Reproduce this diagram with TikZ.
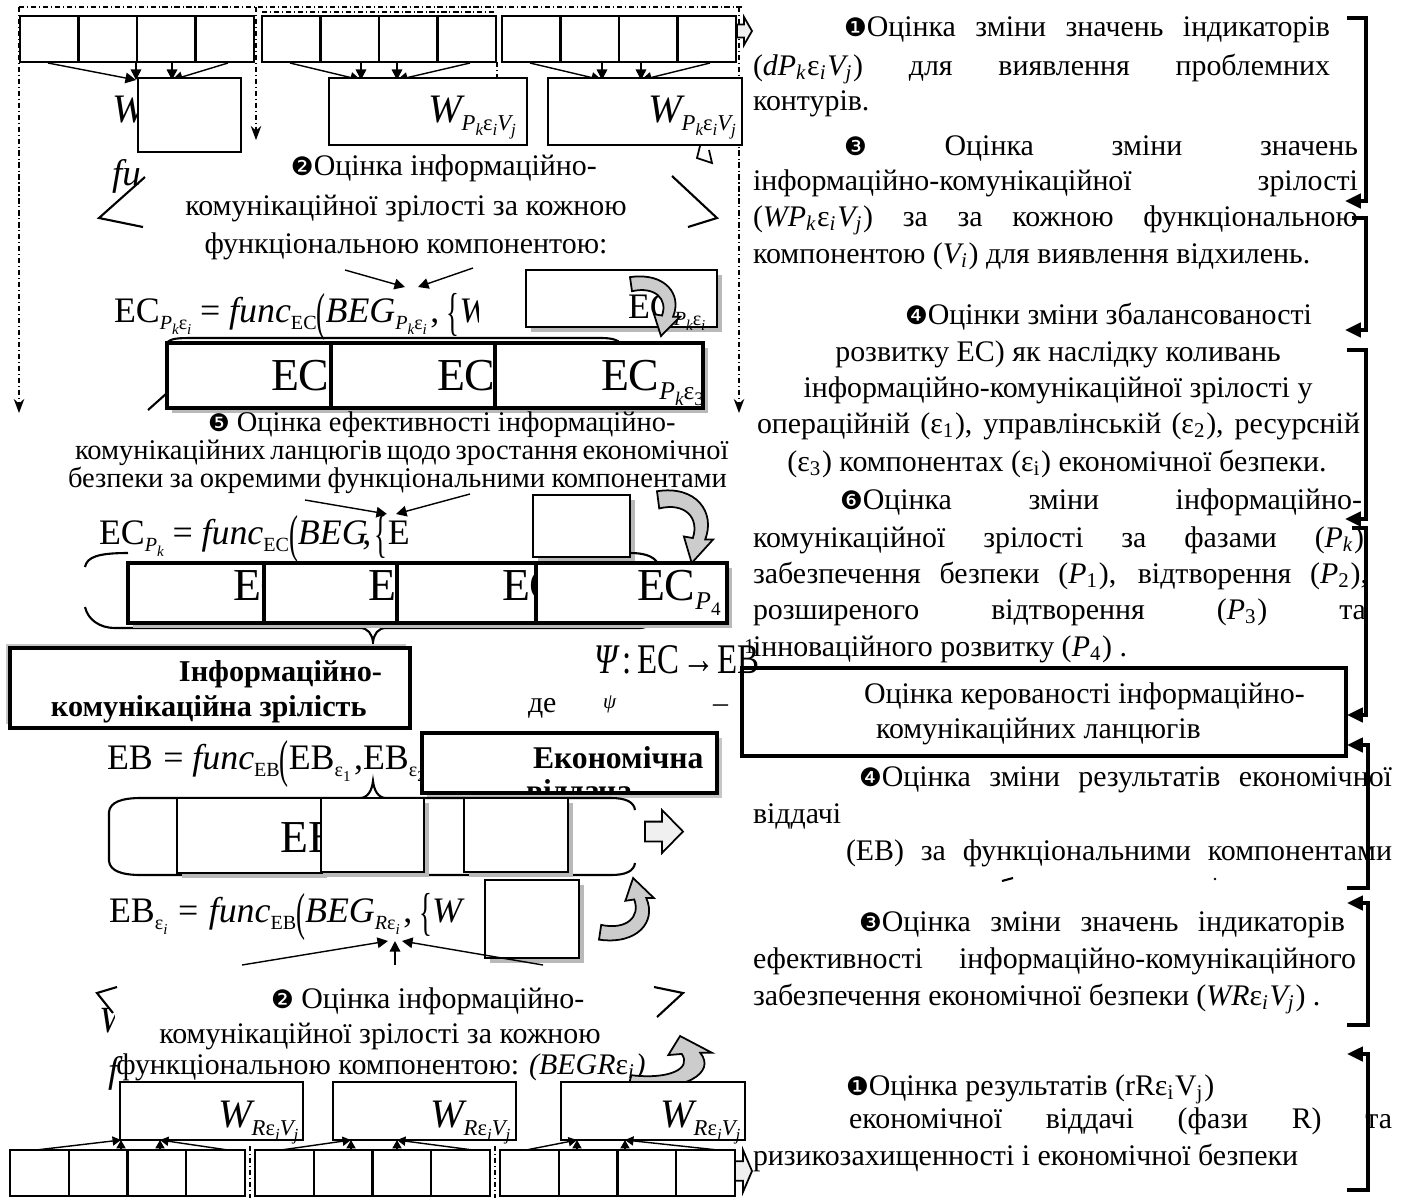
\documentclass[tikz,border=0pt]{standalone}
\usepackage{fontspec}
\usepackage{graphicx}
\setmainfont{Liberation Serif}
\newfontfamily\dingf{DejaVu Sans}
\usetikzlibrary{arrows.meta,calc}
\newlength\pxu
\setlength\pxu{0.01cm}
\newcommand\dg[1]{{\dingf\scalebox{0.85}{#1}}}
\newcommand\ti[1]{{\itshape #1}}
\newcommand\sbi[1]{\textsubscript{\itshape #1}}
\newcommand\sbu[1]{\textsubscript{\upshape #1}}
\newcommand\fsb[1]{\raisebox{-0.2em}{\scalebox{0.56}{#1}}}
\newcommand\isb[1]{\raisebox{-0.24em}{\scalebox{0.75}{#1}}}
\newcommand\ee{{\upshape ε}}
\newcommand\PkE[1]{\ti{P}\isb{\ti{k}}\ee\isb{#1}}
\newcommand\bigp[1]{\raisebox{-0.2em}{\scalebox{0.75}[1.45]{#1}}}
\newcommand\jt[4]{\node[txt] at (#1,#2) {\makebox[#3\pxu][s]{#4}};}
\newcommand\tl[3]{\node[txt] at (#1,#2) {#3};}
\newcommand\shbox[5][sbx]{\fill[shd] ($(#2,#3)+(5,5)$) rectangle ($(#4,#5)+(5,5)$); \draw[#1] (#2,#3) rectangle (#4,#5);}
\newcommand\carrow[4]{\begin{scope}[shift={(#1,#2)}, xscale=#3, yscale=#4]
\filldraw[carr] (0,0.08) .. controls (0.7,0) and (1.05,0.35) .. (0.86,0.7) -- (1,0.7) -- (0.62,1) -- (0.48,0.66) -- (0.64,0.68) .. controls (0.76,0.42) and (0.5,0.22) .. (0.04,0.3) -- cycle;
\end{scope}}
\newcommand\barrow[5]{\filldraw[barr] (#1,{#2+0.27*(#4-#2)}) -- (#5,{#2+0.27*(#4-#2)}) -- (#5,#2) -- (#3,{(#2+#4)/2}) -- (#5,#4) -- (#5,{#4-0.27*(#4-#2)}) -- (#1,{#4-0.27*(#4-#2)}) -- cycle;}
\tikzset{
 txt/.style={inner sep=0pt, outer sep=0pt, anchor=base west, font=\fontsize{8.5}{10}\selectfont},
 ctxt/.style={txt, anchor=base},
 stxt/.style={txt, font=\fontsize{8.1}{10}\selectfont},
 btxt/.style={txt, font=\fontsize{8.6}{10}\selectfont\bfseries},
 ebtxt/.style={txt, font=\fontsize{9}{10}\selectfont\bfseries},
 ftxt/.style={txt, font=\fontsize{10.2}{12}\selectfont},
 fitxt/.style={txt, font=\fontsize{10.5}{12}\selectfont\itshape},
 rtxt/.style={txt, font=\fontsize{13}{14}\selectfont},
 wtxt/.style={txt, font=\fontsize{11.5}{12}\selectfont\itshape},
 cell/.style={draw, line width=0.6pt, fill=white},
 rcell/.style={draw, line width=0.9pt, fill=white},
 wbox/.style={draw, line width=0.8pt, fill=white},
 sbx/.style={draw, line width=0.7pt, fill=white},
 thk/.style={draw, line width=1.3pt, fill=white},
 shd/.style={fill=gray!55},
 dd/.style={line width=0.4pt, dash pattern=on 1.5pt off 0.8pt on 0.3pt off 0.8pt},
 ddarr/.style={dd, -{Stealth[length=4pt,width=3pt]}},
 cv/.style={line width=0.4pt, -{Triangle[length=3pt,width=3pt]}},
 cvs/.style={line width=0.4pt, -{Triangle[length=2.4pt,width=2.6pt]}},
 brka/.style={line width=1.2pt, -{Triangle[length=4.5pt,width=4pt]}},
 carr/.style={fill=gray!40, draw, line width=0.5pt},
 barr/.style={fill=gray!12, draw, line width=0.5pt},
 ln/.style={line width=0.6pt},
}
\begin{document}
\begin{tikzpicture}[x=0.01cm,y=-0.01cm]
\useasboundingbox (0,0) rectangle (1408,1202);

% ---------- top frame ----------
\draw[dd] (19,7) -- (742,7);
\draw[dd] (262,12) -- (494,12);
\draw[ddarr] (19,7) -- (19,413);
\draw[ddarr] (256,7) -- (256,140);
\draw[ddarr] (739,7) -- (739,413);
\draw[dd] (497,62) -- (497,80);

\foreach \a in {20,262,502}{\foreach \i in {0,1,2,3}{\draw[cell] ({\a+\i*58.5},16) rectangle ({\a+(\i+1)*58.5},62);}}
\barrow{737}{17}{752}{45}{744}

\foreach \a/\p/\q in {20/136/172, 262/361/397, 502/602/641}{
 \draw[cv] ({\a+28},63) -- (\p,80);
 \draw[cv] ({\a+208},63) -- (\q,80);
 \draw[cv] (\p,62) -- (\p,80);
 \draw[cv] (\q,62) -- (\q,80);
}
\node[wtxt] (wt1) at (112,122) {W\fsb{\PkE{\ti{i}}\ti{V}\isb{\ti{j}}}};
\draw[wbox] (138,78) rectangle (241,152);
\draw[wbox] (329,78) rectangle (527,145);
\node[wtxt] (wt2) at (428,122) {W\fsb{\PkE{\ti{i}}\ti{V}\isb{\ti{j}}}};
\draw[wbox] (548,78) rectangle (742,145);
\node[wtxt] (wt3) at (648,122) {W\fsb{\PkE{\ti{i}}\ti{V}\isb{\ti{j}}}};
\draw[line width=0.5pt] (700,146) -- (697,158) -- (712,163) -- (709,150);

\node[fitxt] at (112,185) {fu};
\draw[ln] (145,177) -- (99,218) -- (143,227);
\draw[ln] (672,176) -- (717,218) -- (688,227);
\node[txt] at (291,175) {\dg{❷}Оцінка інформаційно-};
\node[ctxt] at (406,215) {комунікаційної зрілості за кожною};
\node[ctxt] at (406,253) {функціональною компонентою:};

\begin{scope}\clip (100,280) rectangle (478,345);
\node[ftxt] (f1) at (114,322) {EC\fsb{\PkE{\ti{i}}}\hspace{2.5pt}=\hspace{2.5pt}{\itshape func}\fsb{EC}\bigp{(}{\itshape BEG}\fsb{\PkE{\ti{i}}}\hspace{1pt},\hspace{2pt}\bigp{\{}{\itshape W}};
\end{scope}
\draw[cv] (345,270) -- (405,287);
\draw[cv] (473,268) -- (418,287);
\shbox{526}{270}{717}{327}
\node[ftxt] at (628,318) {EC\fsb{\PkE{\ti{i}}}};
\carrow{630}{272}{50}{64}

\draw[ln] (167,343) .. controls (170,338) and (180,338) .. (194,338) -- (601,338) .. controls (612,338) and (618,340) .. (620,343);
\fill[shd] (172,348) rectangle (708,413);
\draw[rcell] (167,343) rectangle (331,408);
\node[rtxt] at (271,390) {EC\fsb{\PkE{1}}};
\draw[rcell] (331,343) rectangle (495,408);
\node[rtxt] at (437,390) {EC\fsb{\PkE{2}}};
\draw[rcell] (495,343) rectangle (703,408);
\node[rtxt] at (601,390) {EC\fsb{\PkE{3}}};
\draw[ln] (148,410) -- (167,393);

% ---------- block 5 ----------
\node[stxt] at (208,431) {\dg{❺} Оцінка ефективності інформаційно-};
\node[stxt] at (75,459) {\makebox[652\pxu][s]{комунікаційних ланцюгів щодо зростання економічної}};
\node[stxt] at (68,487) {\makebox[659\pxu][s]{безпеки за окремими функціональними компонентами}};
\draw[cv] (305,500) -- (387,514);
\draw[cv] (470,494) -- (396,514);
\node[ftxt] (f2) at (99,544) {EC\fsb{\ti{P}\isb{\ti{k}}}\hspace{2.5pt}=\hspace{2.5pt}{\itshape func}\fsb{EC}\bigp{(}{\itshape BEG}\hspace{-1.5pt},\hspace{1pt}\bigp{\{}E};
\shbox{533}{495}{630}{557}
\carrow{657}{485}{56}{78}

\draw[ln] (85,567) .. controls (87,557) and (98,553) .. (128,553);
\draw[ln] (630,553) .. controls (648,553) and (657,558) .. (659,567);
\draw[ln] (85,607) .. controls (88,620) and (100,628) .. (115,628) -- (360,628) .. controls (368,628) and (372,634) .. (373,642) .. controls (374,634) and (378,628) .. (386,628) -- (640,628) .. controls (650,628) and (657,618) .. (659,607);
\fill[shd] (133,568) rectangle (732,628);
\draw[rcell] (128,563) rectangle (264,623);
\node[rtxt] at (233,600) {EC\fsb{\ti{P}\isb{1}}};
\draw[rcell] (264,563) rectangle (397,623);
\node[rtxt] at (368,600) {EC\fsb{\ti{P}\isb{2}}};
\draw[rcell] (397,563) rectangle (536,623);
\node[rtxt] at (502,600) {EC\fsb{\ti{P}\isb{3}}};
\draw[rcell] (536,563) rectangle (727,623);
\node[rtxt] at (637,600) {EC\fsb{\ti{P}\isb{4}}};

% ---------- middle ----------
\fill[gray!45] (6,644) rectangle (406,724);
\draw[thk] (10,648) rectangle (410,728);
\node[btxt] at (179,681) {Інформаційно-};
\node[btxt] at (51,716) {комунікаційна зрілість};

\node[txt] at (528,712) {де};
\node[txt, font=\fontsize{6}{7}\selectfont\itshape] at (603,708) {ψ};
\node[txt] at (713,712) {–};

\node[ftxt] (f3) at (107,769) {EB\hspace{3pt}=\hspace{2.5pt}{\itshape func}\fsb{EB}\bigp{(}EB\fsb{ε\isb{1}}\hspace{1pt},EB\fsb{ε\isb{2}}};
\fill[gray!45] (427,738) rectangle (722,798);
\draw[thk] (422,733) rectangle (717,793);
\node[ebtxt] at (533,768) {Економічна};
\begin{scope}\clip (422,733) rectangle (717,792);
\node[ebtxt] at (526,801) {віддача};
\end{scope}

\draw[ln] (141,798) -- (360,798) .. controls (368,798) and (372,790) .. (373,781) .. controls (374,790) and (378,798) .. (386,798) -- (611,798) .. controls (626,798) and (634,802) .. (635,810);
\draw[ln] (141,798) .. controls (122,798) and (110,802) .. (109,812) -- (109,861) .. controls (110,871) and (122,875) .. (141,875) -- (611,875) .. controls (626,875) and (634,871) .. (635,863);
\fill[shd] (182,803) rectangle (327,878);
\draw[sbx] (177,798) rectangle (322,873);
\node[rtxt] at (281,852) {EB\fsb{ε\isb{1}}};
\fill[shd] (326,803) rectangle (429,877);
\draw[sbx] (321,798) rectangle (424,872);
\fill[shd] (469,803) rectangle (573,877);
\draw[sbx] (464,798) rectangle (568,872);
\barrow{645}{810}{683}{853}{662}

\node[ftxt] (f4) at (109,922) {EB\fsb{ε\isb{\ti{i}}}\hspace{3pt}=\hspace{3pt}{\itshape func}\fsb{EB}\bigp{(}{\itshape BEG}\fsb{\ti{R}ε\isb{\ti{i}}}\hspace{1pt},\hspace{2pt}\bigp{\{}{\itshape W}};
\shbox{485}{880}{579}{958}
\carrow{599}{945}{55}{-67}
\draw[cv] (242,965) -- (388,941);
\draw[cv] (543,965) -- (402,941);
\draw[cv] (395,965) -- (395,941);

% ---------- bottom block 2 ----------
\draw[ln] (117,987) -- (97,993) -- (113,1013);
\draw[ln] (654,987) -- (683,993) -- (657,1017);
\node[txt] at (271,1008) {\dg{❷} Оцінка інформаційно-};
\node[ctxt] at (380,1043) {комунікаційної зрілості за кожною};
\node[ctxt] at (381,1074) {функціональною компонентою: {\itshape (BEGR}ε\sbi{i}{\itshape )}};
\begin{scope}\clip (90,1005) rectangle (114,1040);
\node[fitxt] at (99,1032) {W};
\end{scope}
\node[fitxt] at (108,1082) {f};
\carrow{628}{1092}{84}{-56}

\draw[wbox] (120,1082) rectangle (303,1140);
\node[wtxt] at (218,1127) {W\fsb{\ti{R}\ee\isb{\ti{i}}\ti{V}\isb{\ti{j}}}};
\draw[wbox] (333,1082) rectangle (516,1140);
\node[wtxt] at (430,1127) {W\fsb{\ti{R}\ee\isb{\ti{i}}\ti{V}\isb{\ti{j}}}};
\draw[wbox] (561,1082) rectangle (745,1140);
\node[wtxt] at (660,1127) {W\fsb{\ti{R}\ee\isb{\ti{i}}\ti{V}\isb{\ti{j}}}};
\foreach \a/\p/\q in {10/121/160, 255/351/397, 500/577/625}{
 \draw[cvs] ({\a+26},1150) -- (\p,1140);
 \draw[cvs] ({\a+218},1150) -- (\q,1140);
 \draw[cvs] (\p,1150) -- (\p,1140);
 \draw[cvs] (\q,1150) -- (\q,1140);
}
\foreach \a in {10,255,500}{\foreach \i in {0,1,2,3}{\draw[cell] ({\a+\i*58.75},1150) rectangle ({\a+(\i+1)*58.75},1196);}}
\draw[dd] (250,1146) -- (250,1198);
\draw[dd] (495,1146) -- (495,1198);
\barrow{735}{1150}{752}{1192}{743}

% ---------- right column ----------
\jt{844}{36}{486}{\dg{❶}Оцінка зміни значень індикаторів}
\jt{753}{75}{577}{(\ti{dP}\sbi{k}ε\sbi{i}\ti{V}\sbi{j}) для виявлення проблемних}
\tl{753}{110}{контурів.}
\jt{844}{155}{514}{\dg{❸} Оцінка зміни значень}
\jt{753}{190}{605}{інформаційно-комунікаційної зрілості}
\jt{753}{226}{605}{(\ti{WP}\sbi{k}ε\sbi{i}\ti{V}\sbi{j}) за за кожною функціональною}
\tl{753}{263}{компонентою (\ti{V}\sbi{i}) для виявлення відхилень.}
\tl{905}{324}{\dg{❹}Оцінки зміни збалансованості}
\node[ctxt] at (1058,361) {розвитку ЕС) як наслідку коливань};
\node[ctxt] at (1058,397) {інформаційно-комунікаційної зрілості у};
\jt{757}{433}{603}{операційній (ε\sbu{1}), управлінській (ε\sbu{2}), ресурсній}
\node[ctxt] at (1057,471) {(ε\sbu{3}) компонентах (ε\sbu{i}) економічної безпеки.};
\jt{840}{509}{522}{\dg{❻}Оцінка зміни інформаційно-}
\jt{753}{547}{611}{комунікаційної зрілості за фазами (\ti{P}\sbi{k})}
\jt{753}{583}{615}{забезпечення безпеки (\ti{P}\sbu{1}), відтворення (\ti{P}\sbu{2}),}
\jt{753}{619}{613}{розширеного відтворення (\ti{P}\sbu{3}) та}
\tl{753}{656}{інноваційного розвитку (\ti{P}\sbu{4}) .}

\draw[thk] (742,668) rectangle (1346,756);
\node[txt] (kb1) at (864,703) {Оцінка керованості інформаційно-};
\node[txt] (kb2) at (876,738) {комунікаційних ланцюгів};

\jt{859}{786}{533}{\dg{❹}Оцінка зміни результатів економічної}
\tl{753}{823}{віддачі}
\jt{846}{860}{546}{(ЕВ) за функціональними компонентами}
\draw[line width=0.6pt] (1002,881) -- (1013,878);
\fill (1215,879) circle (0.4pt);
\jt{859}{931}{486}{\dg{❸}Оцінка зміни значень індикаторів}
\jt{753}{968}{603}{ефективності інформаційно-комунікаційного}
\tl{753}{1005}{забезпечення економічної безпеки (\ti{WR}ε\sbi{i}\ti{V}\sbi{j}) .}
\tl{846}{1095}{\dg{❶}Оцінка результатів (rRε\sbu{i}V\sbu{j})}
\jt{849}{1128}{543}{економічної віддачі (фази R) та}
\tl{753}{1165}{ризикозахищенності і економічної безпеки}

\draw[brka] (1347,18) -- (1366,18) -- (1366,201) -- (1345,201);
\draw[brka] (1352,218) -- (1366,218) -- (1366,330) -- (1345,330);
\draw[brka] (1347,350) -- (1366,350) -- (1366,519) -- (1345,519);
\draw[brka] (1352,528) -- (1366,528) -- (1366,715) -- (1347,715);
\draw[brka] (1347,888) -- (1368,888) -- (1368,745) -- (1347,745);
\draw[brka] (1347,1025) -- (1368,1025) -- (1368,903) -- (1347,903);
\draw[brka] (1347,1190) -- (1368,1190) -- (1368,1054) -- (1347,1054);

\node[ftxt, font=\fontsize{12}{13}\selectfont] (psi) at (594,673) {\scalebox{0.78}[1]{{\itshape Ψ}\hspace{2pt}:\hspace{2pt}EC\hspace{1pt}→\hspace{1pt}EB}};
\node[txt, font=\fontsize{6}{7}\selectfont] at (744,653) {1};
\end{tikzpicture}
\end{document}
